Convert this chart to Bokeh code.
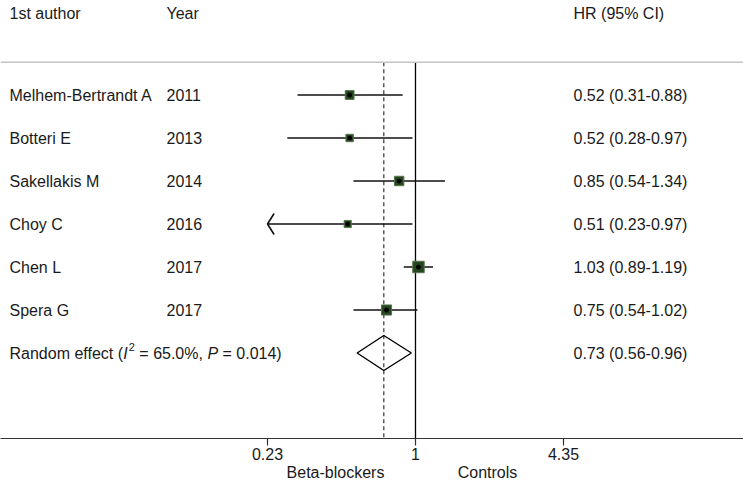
import numpy as np
from bokeh.plotting import figure
from bokeh.models import Range1d, FixedTicker, LogAxis, Span, ColumnDataSource, LogScale
from bokeh.core.properties import value
from bokeh.embed import file_html
from bokeh.resources import INLINE

# ---------------- data ----------------
authors = ["Melhem-Bertrandt A", "Botteri E", "Sakellakis M", "Choy C", "Chen L", "Spera G"]
years = ["2011", "2013", "2014", "2016", "2017", "2017"]
hr = [0.52, 0.52, 0.85, 0.51, 1.03, 0.75]
lower = [0.31, 0.28, 0.54, 0.23, 0.89, 0.54]
upper = [0.88, 0.97, 1.34, 0.97, 1.19, 1.02]
weights = [15.4, 10.8, 17.6, 10.0, 26.0, 20.2]   # estimated study weights (%)
pooled_label = "Random effect ("
pooled_hr, pooled_lo, pooled_hi = 0.73, 0.56, 0.96
i2_text = "65.0%,"
p_text = "0.014)"
tick_values = [0.23, 1, 4.35]
tick_labels = ["0.23", "1", "4.35"]
headers = ["1st author", "Year", "HR (95% CI)"]
favours = ["Beta-blockers", "Controls"]
null_hr = 1.0

# ---------------- layout helpers (page pixels -> data) ----------------
W = 743
PX_PER_LN = 100.7
X_NULL_PAGE = 415.0
def xd(page_x):
    return float(np.exp((page_x - X_NULL_PAGE) / PX_PER_LN))

ROW0, ROW_H = 94.5, 43.0
FRAME_TOP, FRAME_H = 0.0, 438
def yd(page_y):
    return (ROW0 - page_y) / ROW_H

FONT = value("Liberation Sans")
TXT = "#1a1a1a"

p = figure(frame_width=W, frame_height=FRAME_H, min_border=0,
           x_axis_type="log", x_axis_location=None, y_axis_location=None,
           x_range=Range1d(xd(0), xd(W)),
           y_range=Range1d(yd(FRAME_TOP + FRAME_H), yd(FRAME_TOP)),
           output_backend="svg", toolbar_location=None)
p.x_scale = LogScale()
p.grid.grid_line_color = None
p.grid.visible = False
p.outline_line_color = None
p.background_fill_color = "white"
p.border_fill_color = "white"

n = len(authors)
rows = [-i for i in range(n)]
pooled_row = -n

# header line and reference lines
line_y = yd(61.7)
p.add_layout(Span(location=line_y, dimension="width", line_color="#c4c4c4", line_width=1.5))
bottom_y = yd(FRAME_TOP + FRAME_H)
p.segment(x0=[null_hr], x1=[null_hr], y0=[line_y], y1=[bottom_y], line_color="black", line_width=1.3)
p.segment(x0=[pooled_hr], x1=[pooled_hr], y0=[line_y], y1=[bottom_y], line_color="#333333",
          line_width=1.2, line_dash="4 3")

# confidence intervals
x_min = tick_values[0]
lo_draw = [max(l, x_min) for l in lower]
p.segment(x0=lo_draw, x1=upper, y0=rows, y1=rows, line_color="#111111", line_width=1.6)

# arrows for clipped intervals
ax_x, ax_y = [], []
arm_dx = 6.6 / PX_PER_LN
arm_dy = 10.5 / ROW_H
for l, r in zip(lower, rows):
    if l <= x_min:
        tip = x_min
        ax_x.append([tip * np.exp(arm_dx), tip, tip * np.exp(arm_dx)])
        ax_y.append([r + arm_dy, r, r - arm_dy])
p.multi_line(xs=ax_x, ys=ax_y, line_color="#111111", line_width=1.6)

# boxes
sizes = [2.25 * np.sqrt(w) for w in weights]
src = ColumnDataSource(dict(x=hr, y=rows, s=sizes))
p.scatter(x="x", y="y", size="s", marker="square", source=src,
          fill_color="#26461f", line_color="#55754f", line_width=1)
p.scatter(x="x", y="y", size=4, marker="circle", source=src,
          fill_color="black", line_color="black")

# pooled diamond
h = 17.5 / ROW_H
p.patch(x=[pooled_lo, pooled_hr, pooled_hi, pooled_hr],
        y=[pooled_row, pooled_row + h, pooled_row, pooled_row - h],
        fill_color=None, line_color="black", line_width=1.4)

# text columns
col_x = [xd(9), xd(166), xd(573)]
hy = yd(13)
p.text(x=col_x, y=[hy] * 3, text=headers, text_font=FONT, text_font_size=value("16px"),
       text_color=TXT, text_baseline="middle", text_align="left")
p.text(x=[col_x[0]] * n, y=rows, text=authors, text_font=FONT, text_font_size=value("16px"),
       text_color=TXT, text_baseline="middle", text_align="left")
p.text(x=[col_x[1]] * n, y=rows, text=years, text_font=FONT, text_font_size=value("16px"),
       text_color=TXT, text_baseline="middle", text_align="left")
hr_txt = [f"{a:.2f} ({b:.2f}-{c:.2f})" for a, b, c in zip(hr, lower, upper)]
hr_txt.append(f"{pooled_hr:.2f} ({pooled_lo:.2f}-{pooled_hi:.2f})")
p.text(x=[col_x[2]] * (n + 1), y=rows + [pooled_row], text=hr_txt, text_font=FONT,
       text_font_size=value("16px"), text_color=TXT, text_baseline="middle", text_align="left")

# pooled label with italic I, superscript 2 and italic P
ARIAL = {" ": .278, "(": .333, ")": .333, "=": .584, "%": .889, ",": .278, ".": .278,
         "R": .722, "a": .556, "n": .556, "d": .556, "o": .556, "m": .833, "e": .556,
         "f": .278, "c": .5, "t": .278, "I": .278, "P": .667}
for dgt in "0123456789":
    ARIAL[dgt] = .556
def tw(s, size):
    return sum(ARIAL[c] for c in s) * size

SP = 0.278 * 16
# (text, style, size, rise, gap_before)
pieces = [(pooled_label, "normal", 16, 0, 0), ("I", "italic", 16, 0, 0), ("2", "normal", 11, 6.5, 1.0),
          ("=", "normal", 16, 0, SP), (i2_text, "normal", 16, 0, SP), ("P", "italic", 16, 0, SP),
          ("=", "normal", 16, 0, SP), (p_text, "normal", 16, 0, SP)]
cx = 9.0
for s, style, size, rise, gap in pieces:
    cx += gap
    p.text(x=[xd(cx)], y=[pooled_row + rise / ROW_H], text=[s], text_font=FONT,
           text_font_size=value(f"{size}px"), text_font_style=style, text_color=TXT,
           text_baseline="middle", text_align="left")
    cx += tw(s, size)

# x axis
ax1 = LogAxis(ticker=FixedTicker(ticks=tick_values),
              major_label_overrides={t: l for t, l in zip(tick_values, tick_labels)},
              axis_line_color="#333333", axis_line_width=1.2,
              major_tick_line_color="#333333", major_tick_line_width=1.2,
              major_tick_out=7, major_tick_in=0,
              minor_tick_out=0, minor_tick_in=0, major_label_standoff=2,
              major_label_text_font="Liberation Sans", major_label_text_font_size="16px",
              major_label_text_color=TXT)
p.add_layout(ax1, "below")

fav_pos = [xd(335), xd(487)]
ax2 = LogAxis(ticker=FixedTicker(ticks=fav_pos),
              major_label_overrides={t: l for t, l in zip(fav_pos, favours)},
              axis_line_color=None, major_tick_out=0, major_tick_in=0,
              minor_tick_out=0, minor_tick_in=0, major_label_standoff=1,
              major_label_text_font="Liberation Sans", major_label_text_font_size="16px",
              major_label_text_color=TXT)
p.add_layout(ax2, "below")

open("out.html", "w").write(file_html(p, INLINE))
